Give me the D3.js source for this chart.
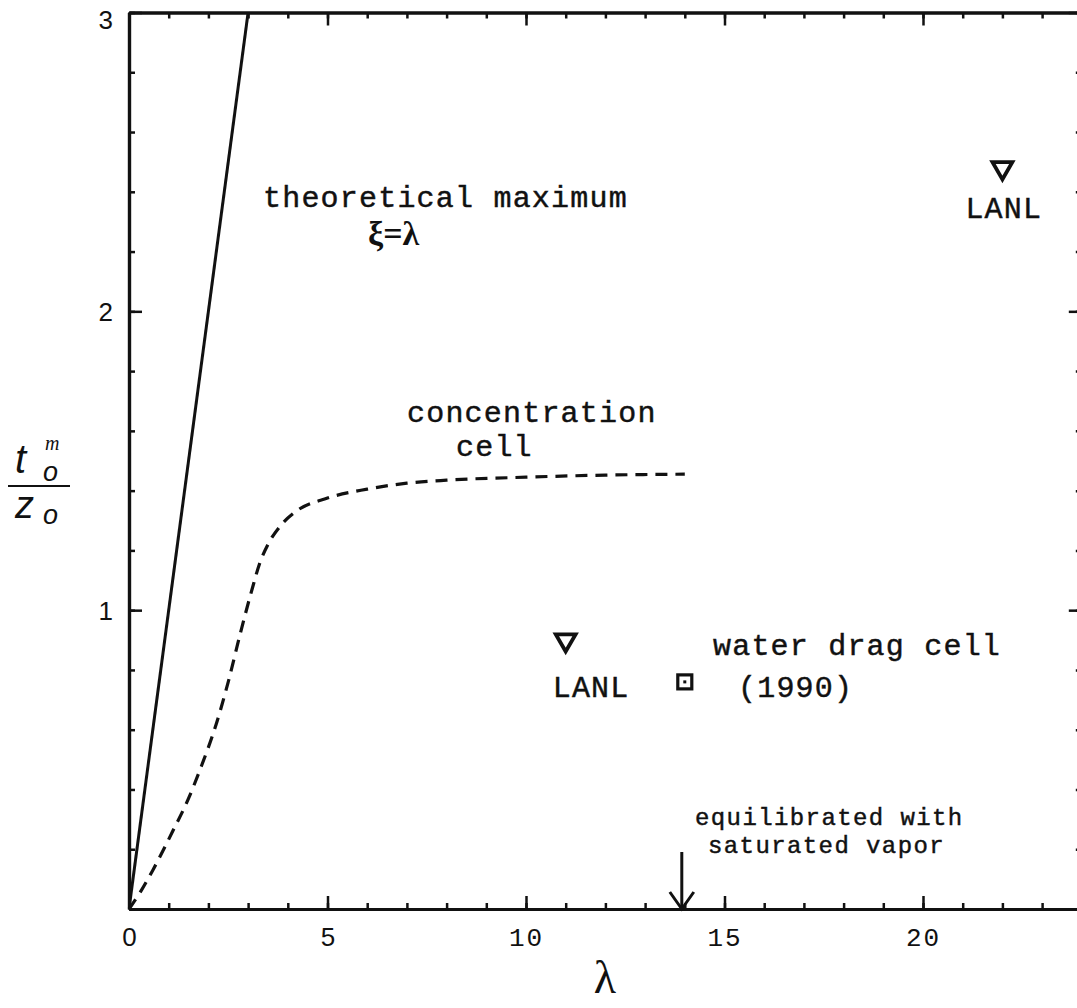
<!DOCTYPE html>
<html>
<head>
<meta charset="utf-8">
<script src="https://cdn.jsdelivr.net/npm/d3@7"></script>
<style>
  html, body { margin: 0; padding: 0; background: #fff; }
  svg { display: block; }
  .mono { font-family: "Liberation Mono", "DejaVu Sans Mono", monospace; fill: #111; stroke: #111; stroke-width: 0.45px; }
</style>
</head>
<body>
<script>
// Axis extents and tick values
const lambdaDomain = [0, 24];
const xiDomain = [0, 3];
const xMajorTicks = [0, 5, 10, 15, 20];
const xMinorTicks = d3.range(0, 25, 1);
const yMajorTicks = [1, 2, 3];
const yMinorTicks = d3.range(0, 3.01, 0.2).map(v => +v.toFixed(1));

// Theoretical maximum, xi = lambda
const maxLambda = [0, 3.05];
const maxXi = [0, 3.05];

// Concentration cell (dashed)
const ccLambda = [0, 0.3, 0.6, 1.1, 1.5, 1.8, 2.2, 2.5, 2.8, 3.1, 3.3, 3.5, 3.8, 4.2, 5, 6, 7, 8, 10, 12, 14];
const ccXi     = [0, 0.06, 0.13, 0.26, 0.37, 0.47, 0.62, 0.76, 0.92, 1.07, 1.16, 1.22, 1.28, 1.33, 1.375, 1.405, 1.425, 1.435, 1.445, 1.452, 1.455];

// LANL measurements (open down-triangles)
const lanlLambda = [11, 22];
const lanlXi = [0.9, 2.48];

// Water drag cell (1990), open square
const wdLambda = [14];
const wdXi = [0.76];

// Equilibrated with saturated vapor
const eqLambda = 14;

const W = 1077, H = 1008;
const svg = d3.select("body").append("svg").attr("width", W).attr("height", H);
svg.append("rect").attr("width", W).attr("height", H).attr("fill", "#fff");

const x = d3.scaleLinear().domain(lambdaDomain).range([129, 129 + 24 * 39.7]);
const y = d3.scaleLinear().domain(xiDomain).range([909, 12.5]);

const ink = "#111";
const sans = "'Liberation Sans', Arial, sans-serif";
const mono = "'Liberation Mono', 'DejaVu Sans Mono', monospace";

function styleAxis(g, width) {
  g.selectAll(".domain").attr("stroke", ink).attr("stroke-width", width);
  g.selectAll(".tick line").attr("stroke", ink).attr("stroke-width", 2.5);
}

// Bottom axis: minor ticks, then major ticks with labels
svg.append("g").attr("transform", `translate(0,${y(0)})`)
  .call(d3.axisBottom(x).tickValues(xMinorTicks).tickSize(-6).tickSizeOuter(0).tickFormat(""))
  .call(g => styleAxis(g, 3.2));
const xb = svg.append("g").attr("transform", `translate(0,${y(0)})`)
  .call(d3.axisBottom(x).tickValues(xMajorTicks).tickSize(-13).tickSizeOuter(0).tickPadding(19).tickFormat(d3.format("d")))
  .call(g => styleAxis(g, 3.2));
xb.selectAll("text").attr("fill", ink).style("font-size", "26px")
  .style("font-family", d => d >= 10 ? mono : sans)
  .attr("letter-spacing", d => d >= 10 ? "2px" : "0px");

// Top axis
svg.append("g").attr("transform", `translate(0,${y(3)})`)
  .call(d3.axisTop(x).tickValues(xMinorTicks).tickSize(-6).tickSizeOuter(0).tickFormat(""))
  .call(g => styleAxis(g, 3.2));
svg.append("g").attr("transform", `translate(0,${y(3)})`)
  .call(d3.axisTop(x).tickValues(xMajorTicks).tickSize(-13).tickSizeOuter(0).tickFormat(""))
  .call(g => styleAxis(g, 3.2));

// Left axis
svg.append("g").attr("transform", `translate(${x(0)},0)`)
  .call(d3.axisLeft(y).tickValues(yMinorTicks).tickSize(-6).tickSizeOuter(0).tickFormat(""))
  .call(g => styleAxis(g, 3.2));
const yl = svg.append("g").attr("transform", `translate(${x(0)},0)`)
  .call(d3.axisLeft(y).tickValues(yMajorTicks).tickSize(-13).tickSizeOuter(0).tickPadding(16).tickFormat(d3.format("d")))
  .call(g => styleAxis(g, 3.2));
yl.selectAll("text").attr("fill", ink).style("font-size", "26px").style("font-family", sans)
  .attr("dy", d => d === 3 ? "0.6em" : "0.34em");

// Right axis
svg.append("g").attr("transform", `translate(${x(24)},0)`)
  .call(d3.axisRight(y).tickValues(yMinorTicks).tickSize(-6).tickSizeOuter(0).tickFormat(""))
  .call(g => styleAxis(g, 3.2));
svg.append("g").attr("transform", `translate(${x(24)},0)`)
  .call(d3.axisRight(y).tickValues(yMajorTicks).tickSize(-13).tickSizeOuter(0).tickFormat(""))
  .call(g => styleAxis(g, 3.2));

// Curves
svg.append("clipPath").attr("id", "plot")
  .append("rect").attr("x", x(0)).attr("y", y(3)).attr("width", x(24) - x(0)).attr("height", y(0) - y(3));

const line = d3.line().x(d => x(d[0])).y(d => y(d[1]));
svg.append("path")
  .datum(maxLambda.map((v, i) => [v, maxXi[i]]))
  .attr("clip-path", "url(#plot)")
  .attr("d", line).attr("fill", "none").attr("stroke", ink).attr("stroke-width", 3);

const curve = d3.line().x(d => x(d[0])).y(d => y(d[1])).curve(d3.curveMonotoneX);
svg.append("path")
  .datum(ccLambda.map((v, i) => [v, ccXi[i]]))
  .attr("d", curve).attr("fill", "none").attr("stroke", ink)
  .attr("stroke-width", 3.2).attr("stroke-dasharray", "12 8");

// LANL triangles
const tri = d3.symbol().type(d3.symbolTriangle).size(170);
svg.selectAll(".lanl").data(lanlLambda.map((v, i) => [v, lanlXi[i]])).join("path")
  .attr("class", "lanl")
  .attr("transform", d => `translate(${x(d[0])},${y(d[1])}) rotate(180)`)
  .attr("d", tri).attr("fill", "#fff").attr("stroke", ink).attr("stroke-width", 3.8)
  .attr("stroke-linejoin", "miter");

// Water drag cell square with a center dot
const wd = svg.selectAll(".wd").data(wdLambda.map((v, i) => [v, wdXi[i]])).join("g")
  .attr("class", "wd").attr("transform", d => `translate(${x(d[0])},${y(d[1])})`);
wd.append("rect").attr("x", -7).attr("y", -7).attr("width", 14).attr("height", 14)
  .attr("fill", "#fff").attr("stroke", ink).attr("stroke-width", 3.2);
wd.append("rect").attr("x", -1.5).attr("y", -1.5).attr("width", 3).attr("height", 3).attr("fill", ink);

// Arrow marking equilibrium with saturated vapor
const ax = x(eqLambda) - 3;
svg.append("line").attr("x1", ax).attr("x2", ax).attr("y1", 852).attr("y2", y(0))
  .attr("stroke", ink).attr("stroke-width", 3);
svg.append("path").attr("d", `M${ax - 12},${892} L${ax},${y(0)} L${ax + 12},${892}`)
  .attr("fill", "none").attr("stroke", ink).attr("stroke-width", 3);

// Annotations
function label(txt, px, py, size, spacing) {
  svg.append("text").attr("class", "mono").attr("x", px).attr("y", py)
    .style("font-size", size + "px").attr("letter-spacing", spacing + "px").text(txt);
}
label("theoretical maximum", 263, 207, 30, 1.2);
label("concentration", 407, 422, 30, 1.2);
label("cell", 456, 456, 30, 1.2);
label("water drag cell", 713, 655, 30, 1.2);
label("(1990)", 738, 697, 30, 1.2);
label("LANL", x(lanlLambda[0]) - 13, 697, 30, 1.2);
label("LANL", x(lanlLambda[1]) - 37, 218, 30, 1.2);
label("equilibrated with", 695, 825, 24, 1.4);
label("saturated vapor", 708, 853, 24, 1.4);

svg.append("text").attr("x", 368).attr("y", 245)
  .style("font-family", "'Liberation Serif', 'DejaVu Serif', serif").style("font-weight", "bold")
  .style("font-size", "34px").attr("fill", ink).text("ξ=λ");

// Axis titles
svg.append("text").attr("x", 605).attr("y", 993).attr("text-anchor", "middle")
  .style("font-family", "'Liberation Serif', 'DejaVu Serif', serif")
  .style("font-size", "46px").attr("fill", ink).text("λ");

// Vertical title: t_o^m over z_o with a fraction bar
const yt = svg.append("text").attr("fill", ink)
  .style("font-family", "'Liberation Sans', Arial, sans-serif").style("font-style", "italic");
yt.append("tspan").attr("x", 15).attr("y", 473).style("font-size", "40px").text("t");
yt.append("tspan").attr("x", 45).attr("y", 450).style("font-size", "20px")
  .style("font-family", "'Liberation Serif', serif").text("m");
yt.append("tspan").attr("x", 43).attr("y", 481).style("font-size", "27px").text("o");
yt.append("tspan").attr("x", 15).attr("y", 518).style("font-size", "38px").text("z");
yt.append("tspan").attr("x", 43).attr("y", 524).style("font-size", "27px").text("o");
svg.append("line").attr("x1", 8).attr("x2", 70).attr("y1", 486).attr("y2", 486)
  .attr("stroke", ink).attr("stroke-width", 2);
</script>
</body>
</html>
